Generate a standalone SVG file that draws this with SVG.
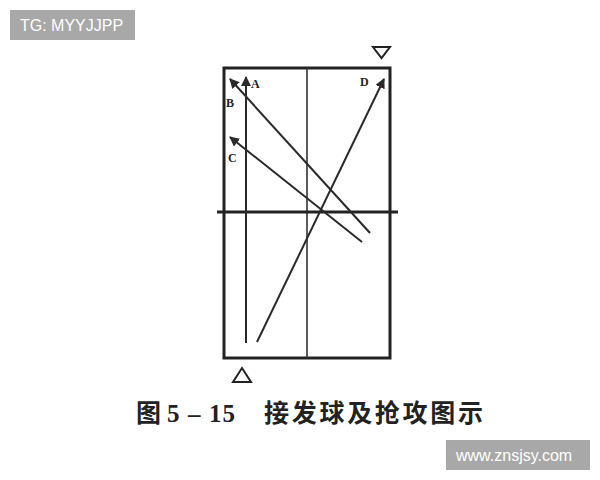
<svg xmlns="http://www.w3.org/2000/svg" width="600" height="480" viewBox="0 0 600 480">
<style>
.ln{stroke:#2a2a2a;stroke-width:2;fill:none}
.lb{font-family:"Liberation Serif",serif;font-weight:bold;font-size:12px;fill:#222}
.cap{font-family:"Liberation Serif","Noto Sans CJK SC",serif;font-weight:bold;font-size:25px;fill:#222}
.wm{font-family:"Liberation Sans",sans-serif;font-size:16px;fill:#fff}
</style>
<defs>
<marker id="ah" viewBox="0 0 10 10" refX="9" refY="5" markerWidth="5" markerHeight="5" orient="auto" markerUnits="strokeWidth">
<path d="M0,0 L10,5 L0,10 z" fill="#2a2a2a"/>
</marker>
</defs>
<rect width="600" height="480" fill="#fff"/>
<g id="table">
<rect x="224" y="68" width="166" height="290" fill="none" stroke="#222" stroke-width="3"/>
<line x1="307" y1="68" x2="307" y2="358" stroke="#333" stroke-width="1.6"/>
<line x1="217" y1="212" x2="398" y2="212" stroke="#222" stroke-width="3"/>
</g>
<g id="connectors">
<line class="ln" x1="246" y1="343" x2="246" y2="77" marker-end="url(#ah)"/>
<line class="ln" x1="370" y1="233" x2="230" y2="79" marker-end="url(#ah)"/>
<line class="ln" x1="362" y1="242" x2="230" y2="137" marker-end="url(#ah)"/>
<line class="ln" x1="257" y1="342" x2="384" y2="79" marker-end="url(#ah)"/>
</g>
<g id="labels">
<text class="lb" x="251" y="88">A</text>
<text class="lb" x="226" y="107">B</text>
<text class="lb" x="228" y="162">C</text>
<text class="lb" x="360" y="86">D</text>
</g>
<g id="server-top">
<polygon points="373,47 390,47 381.5,58" fill="none" stroke="#222" stroke-width="2"/>
</g>
<g id="receiver-bottom">
<polygon points="233,382 251,382 242,368" fill="none" stroke="#222" stroke-width="2"/>
</g>
<g id="caption">
<text class="cap" x="136" y="422">图</text>
<text class="cap" x="167" y="422" textLength="68" lengthAdjust="spacing">5 – 15</text>
<text class="cap" x="264" y="422" textLength="219" lengthAdjust="spacing">接发球及抢攻图示</text>
</g>
<g id="wm1">
<rect x="10" y="10" width="125" height="30" fill="#a8a8a8"/>
<text class="wm" x="20" y="31">TG: MYYJJPP</text>
</g>
<g id="wm2">
<rect x="446" y="440" width="144" height="30" fill="#a8a8a8"/>
<text class="wm" x="456" y="461">www.znsjsy.com</text>
</g>
</svg>
